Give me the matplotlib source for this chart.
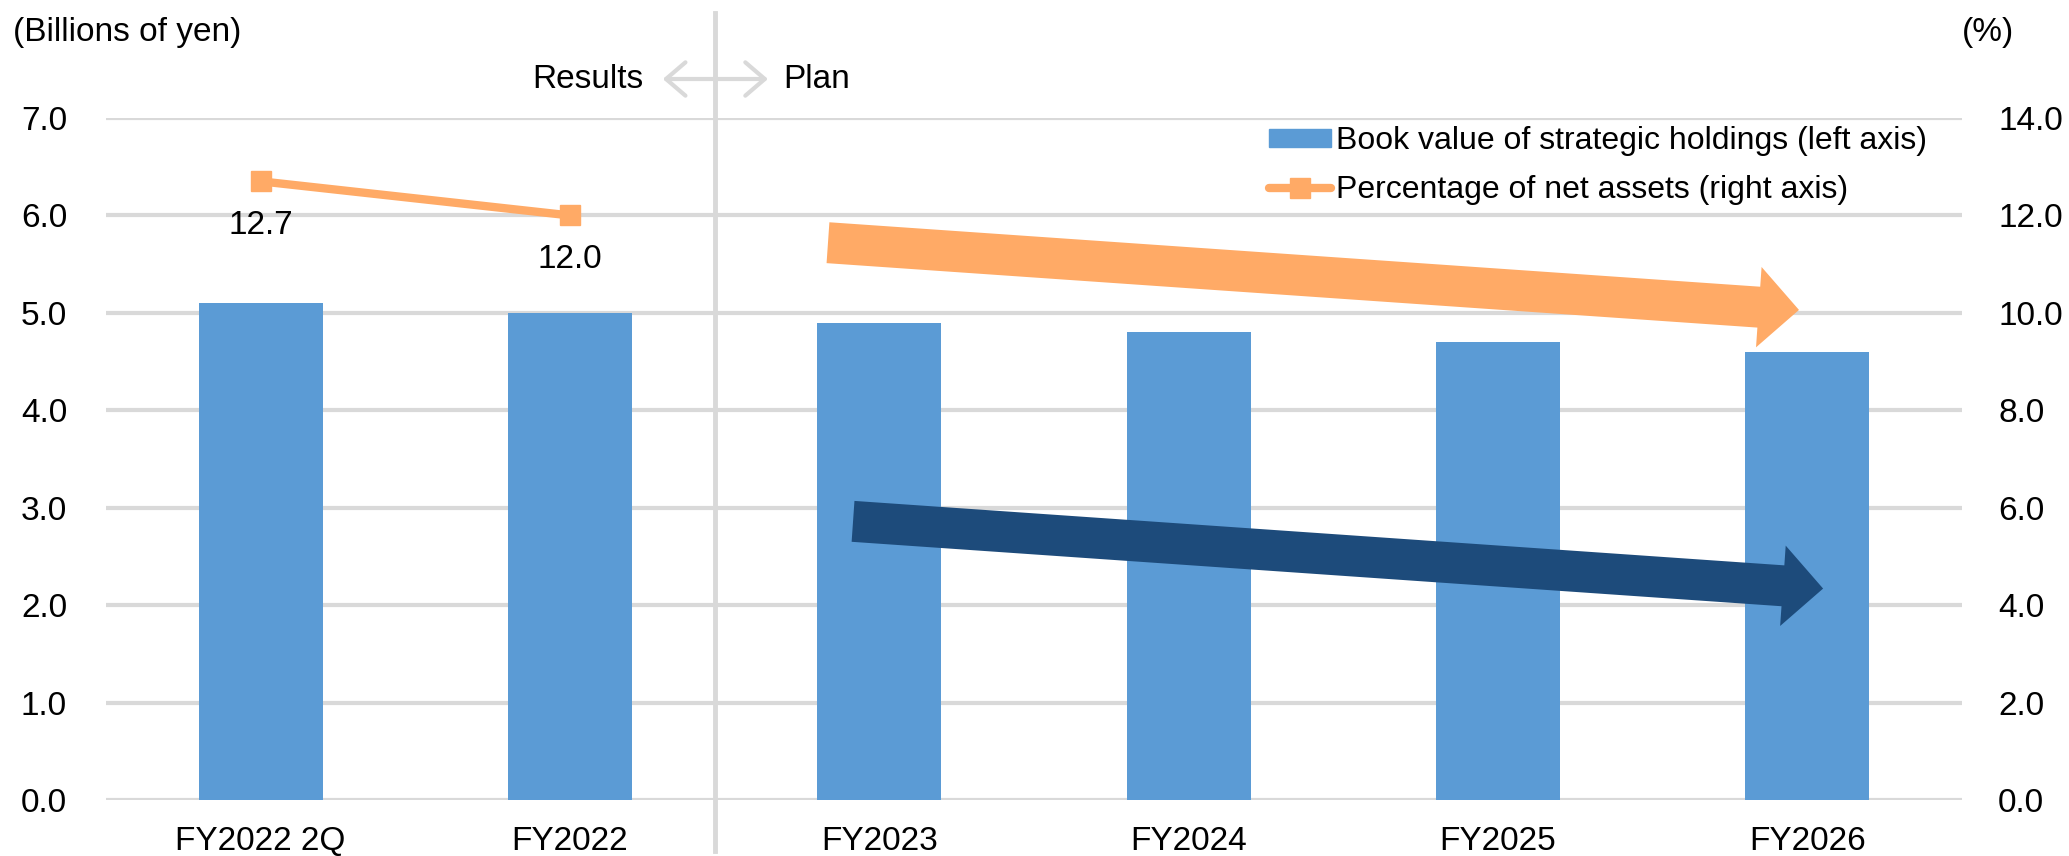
import numpy as np
import matplotlib.pyplot as plt
import matplotlib.transforms as mtransforms
from matplotlib.patches import FancyArrowPatch, Patch
from matplotlib.lines import Line2D

plt.rcParams["font.family"] = ["Liberation Sans", "DejaVu Sans"]

# Data
categories = ["FY2022 2Q", "FY2022", "FY2023", "FY2024", "FY2025", "FY2026"]
book_value = [5.1, 5.0, 4.9, 4.8, 4.7, 4.6]  # billions of yen (left axis)
pct_net_assets = [12.7, 12.0]  # % (right axis), results only
pct_labels = ["12.7", "12.0"]

BLUE = "#5B9BD5"
ORANGE = "#FFAA66"
NAVY = "#1D4B7B"
GRID = "#D9D9D9"
FS = 24

fig = plt.figure(figsize=(20.69, 8.56), dpi=100)
ax = fig.add_axes([106 / 2069, 1 - 800 / 856, (1962 - 106) / 2069, (800 - 118) / 856])
x = np.arange(len(categories))

# Bars (left axis)
ax.bar(x, book_value, width=0.4, color=BLUE, zorder=2)
ax.set_xlim(-0.5, len(categories) - 0.5)
ax.set_ylim(0, 7)
ax.set_yticks(np.arange(0, 7.5, 1.0))
ax.set_yticklabels([f"{v:.1f}" for v in np.arange(0, 7.5, 1.0)])
ax.set_xticks(x)
ax.set_xticklabels(categories)
ax.grid(axis="y", color=GRID, linewidth=3, zorder=0)
ax.set_axisbelow(True)
for s in ax.spines.values():
    s.set_visible(False)
ax.tick_params(axis="y", length=0, labelsize=FS, pad=28)
ax.tick_params(axis="x", length=0, labelsize=FS, pad=19)

# Line (right axis)
ax2 = ax.twinx()
ax2.set_ylim(0, 14)
ax2.set_yticks(np.arange(0, 15, 2.0))
ax2.set_yticklabels([f"{v:.1f}" for v in np.arange(0, 15, 2.0)])
for s in ax2.spines.values():
    s.set_visible(False)
ax2.tick_params(axis="y", length=0, labelsize=FS, pad=26)
ax2.plot(x[: len(pct_net_assets)], pct_net_assets, color=ORANGE, linewidth=6,
         marker="s", markersize=15, zorder=4)
for xi, v, lab in zip(x, pct_net_assets, pct_labels):
    ax2.annotate(lab, (xi, v), xytext=(0, -32), textcoords="offset points",
                 ha="center", va="center", fontsize=FS)

# Trend arrows (in bar-axis data coordinates)
for (x0, y0), (x1, y1), col in [((1.834, 5.72), (4.973, 5.03), ORANGE),
                                ((1.915, 2.86), (5.051, 2.17), NAVY)]:
    arr = FancyArrowPatch((x0, y0), (x1, y1), transform=ax.transData,
                          arrowstyle="simple,head_length=2.9,head_width=5.8,tail_width=2.95",
                          mutation_scale=10, shrinkA=0, shrinkB=0,
                          color=col, linewidth=0, zorder=6)
    ax2.add_patch(arr)

# Results / Plan divider
blend = mtransforms.blended_transform_factory(ax.transData, fig.transFigure)
fig.add_artist(Line2D([1.47, 1.47], [1 - 851 / 856, 1 - 13 / 856], transform=blend,
                      color=GRID, linewidth=3.5, zorder=1))
ytxt = 1 - 79 / 856
fig.text(1.236, ytxt, "Results", transform=blend, ha="right", va="center", fontsize=FS)
fig.text(1.689, ytxt, "Plan", transform=blend, ha="left", va="center", fontsize=FS)
fig.add_artist(FancyArrowPatch((1.30, ytxt), (1.64, ytxt), transform=blend,
                               arrowstyle="<->,head_length=0.7,head_width=0.6",
                               mutation_scale=20, color=GRID, linewidth=3,
                               shrinkA=0, shrinkB=0))

# Axis unit labels
fig.text(13 / 2069, 1 - 33 / 856, "(Billions of yen)", ha="left", va="center", fontsize=FS)
fig.text(1962 / 2069, 1 - 33 / 856, "(%)", ha="left", va="center", fontsize=FS)

# Legend
handles = [Patch(color=BLUE),
           Line2D([], [], color=ORANGE, linewidth=6, marker="s", markersize=15,
                  solid_capstyle="round")]
labels = ["Book value of strategic holdings (left axis)",
          "Percentage of net assets (right axis)"]
fig.legend(handles, labels, loc="upper left",
           bbox_to_anchor=(1269 / 2069, 1 - 126 / 856), frameon=False, fontsize=23,
           handlelength=1.95, handleheight=0.5, handletextpad=0.15, labelspacing=0.6,
           borderpad=0, borderaxespad=0)

fig.savefig("out.png", dpi=100)
